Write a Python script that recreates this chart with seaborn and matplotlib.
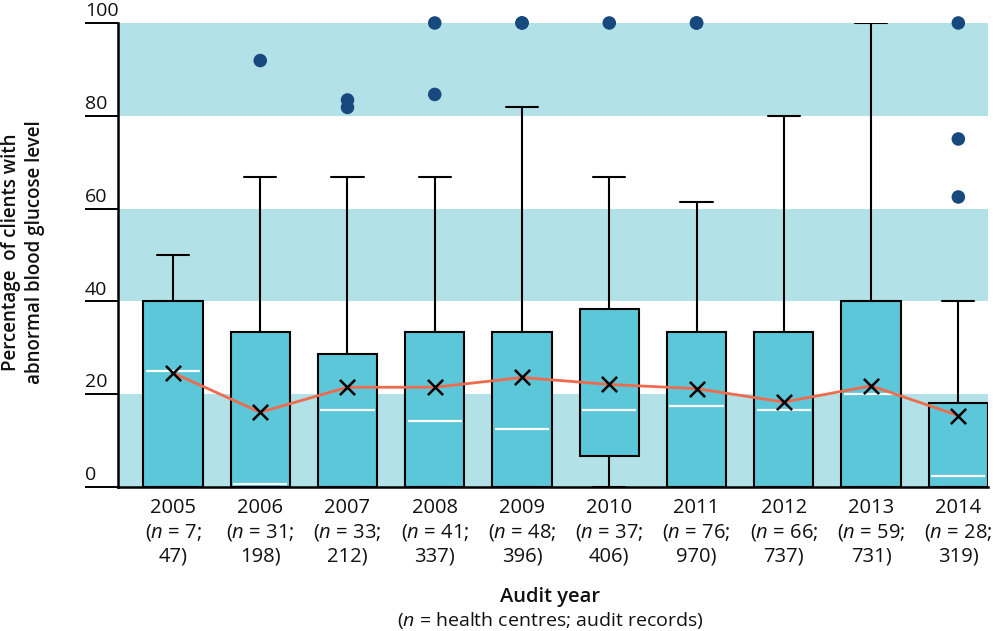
import numpy as np
import pandas as pd
import matplotlib
matplotlib.use("Agg")
import matplotlib.pyplot as plt
import matplotlib.transforms as mtransforms
import seaborn as sns

# ---------------- data ----------------
years = [2005, 2006, 2007, 2008, 2009, 2010, 2011, 2012, 2013, 2014]
n_centres = [7, 31, 33, 41, 48, 37, 76, 66, 59, 28]
n_records = [47, 198, 212, 337, 396, 406, 970, 737, 731, 319]
q1_values = [0, 0, 0, 0, 0, 6.6, 0, 0, 0, 0]
median_values = [25, 0.6, 16.7, 14.3, 12.5, 16.7, 17.5, 16.7, 20, 2.3]
q3_values = [40, 33.3, 28.6, 33.3, 33.3, 38.4, 33.3, 33.3, 40, 18.2]
whisker_low = [0, 0, 0, 0, 0, 0, 0, 0, 0, 0]
whisker_high = [50, 66.7, 66.7, 66.7, 81.8, 66.7, 61.5, 80, 100, 40]
mean_values = [24.6, 16.1, 21.5, 21.5, 23.6, 22.1, 21.2, 18.3, 21.8, 15.4]
outlier_years = [2006, 2007, 2007, 2008, 2008, 2009, 2009, 2010, 2011, 2011, 2014, 2014, 2014]
outlier_values = [91.9, 83.4, 81.8, 100, 84.6, 100, 100, 100, 100, 100, 100, 75, 62.5]
band_ranges = [(0, 20), (40, 60), (80, 100)]
y_ticks = [0, 20, 40, 60, 80, 100]

# ---------------- style ----------------
sns.set_theme(style="white")
plt.rcParams["font.family"] = ["Open Sans", "DejaVu Sans"]
plt.rcParams["mathtext.fontset"] = "custom"
plt.rcParams["mathtext.rm"] = "Open Sans"
plt.rcParams["mathtext.it"] = "Open Sans:italic"
plt.rcParams["text.color"] = "#111111"

band_color = "#b3e1e8"
box_color = "#5bc7d9"
dot_color = "#17497e"
line_color = "#ee6b4d"

fig = plt.figure(figsize=(10, 6.31), dpi=100)
ax = fig.add_axes([0.118, 0.2282, 0.870, 0.7354])

for lo, hi in band_ranges:
    ax.axhspan(lo, hi, color=band_color, lw=0, zorder=0)

positions = np.arange(len(years))
stats = [
    dict(med=m, q1=a, q3=b, whislo=lo, whishi=hi, fliers=[])
    for m, a, b, lo, hi in zip(median_values, q1_values, q3_values, whisker_low, whisker_high)
]
bp = ax.bxp(
    stats, positions=positions, widths=0.68, capwidths=0.37,
    patch_artist=True, showfliers=False, manage_ticks=False,
    boxprops=dict(facecolor=box_color, edgecolor="black", linewidth=1.5),
    whiskerprops=dict(color="black", linewidth=1.5),
    capprops=dict(color="black", linewidth=1.5),
    medianprops=dict(color="white", linewidth=1.6),
)
for part in ("boxes", "whiskers", "caps", "medians"):
    for artist in bp[part]:
        artist.set_zorder(2)
for line in bp["medians"]:
    xd = line.get_xdata()
    line.set_xdata([xd[0] + 0.03, xd[-1] - 0.03])
    line.set_zorder(2.5)

# outliers
pos_of = dict(zip(years, positions))
df_out = pd.DataFrame({"x": [pos_of[y] for y in outlier_years], "y": outlier_values})
sns.scatterplot(data=df_out, x="x", y="y", ax=ax, color=dot_color, s=95,
                edgecolor="none", clip_on=False, zorder=5, legend=False)

# mean line + markers
df_mean = pd.DataFrame({"x": positions, "mean": mean_values})
sns.lineplot(data=df_mean, x="x", y="mean", ax=ax, color=line_color, lw=2.0, zorder=3)
sns.scatterplot(data=df_mean, x="x", y="mean", ax=ax, marker="x", s=120,
                color="black", linewidth=1.8, zorder=6, legend=False)

# axes
ax.set_xlim(-0.63, 9.34)
ax.set_ylim(0, 100)
ax.set_xlabel("")
ax.set_ylabel("")
for side in ("top", "right"):
    ax.spines[side].set_visible(False)
for side in ("left", "bottom"):
    ax.spines[side].set_color("black")
    ax.spines[side].set_linewidth(1.8)

ax.set_yticks(y_ticks)
ax.tick_params(axis="y", length=23.8, width=1.4, color="black", direction="out",
               left=True, labelleft=False)
trans = mtransforms.blended_transform_factory(ax.transAxes, ax.transData)
for v in y_ticks:
    ax.annotate(str(v), xy=(0, v), xycoords=trans, xytext=(-23.8, 2),
                textcoords="offset points", ha="left", va="bottom",
                fontsize=14, color="#111111")

xlabels = [f"{y}\n($\\mathit{{n}}$ = {c};\n{r})" for y, c, r in zip(years, n_centres, n_records)]
ax.set_xticks(positions)
ax.set_xticklabels(xlabels, fontsize=14.5, color="#111111")
ax.tick_params(axis="x", length=0, pad=8)
for t in ax.get_xticklabels():
    t.set_linespacing(1.25)

fig.text(0.55, 0.054, "Audit year", ha="center", va="center", fontsize=14.5,
         fontweight="semibold", color="#111111")
fig.text(0.55, 0.0174, "($\\mathit{n}$ = health centres; audit records)", ha="center",
         va="center", fontsize=14, color="#111111")
fig.text(0.023, 0.60, "Percentage  of clients with\nabnormal blood glucose level",
         rotation=90, ha="center", va="center", fontsize=13.5, fontweight="semibold",
         linespacing=1.25, color="#111111")

fig.savefig("out.png", dpi=100)
